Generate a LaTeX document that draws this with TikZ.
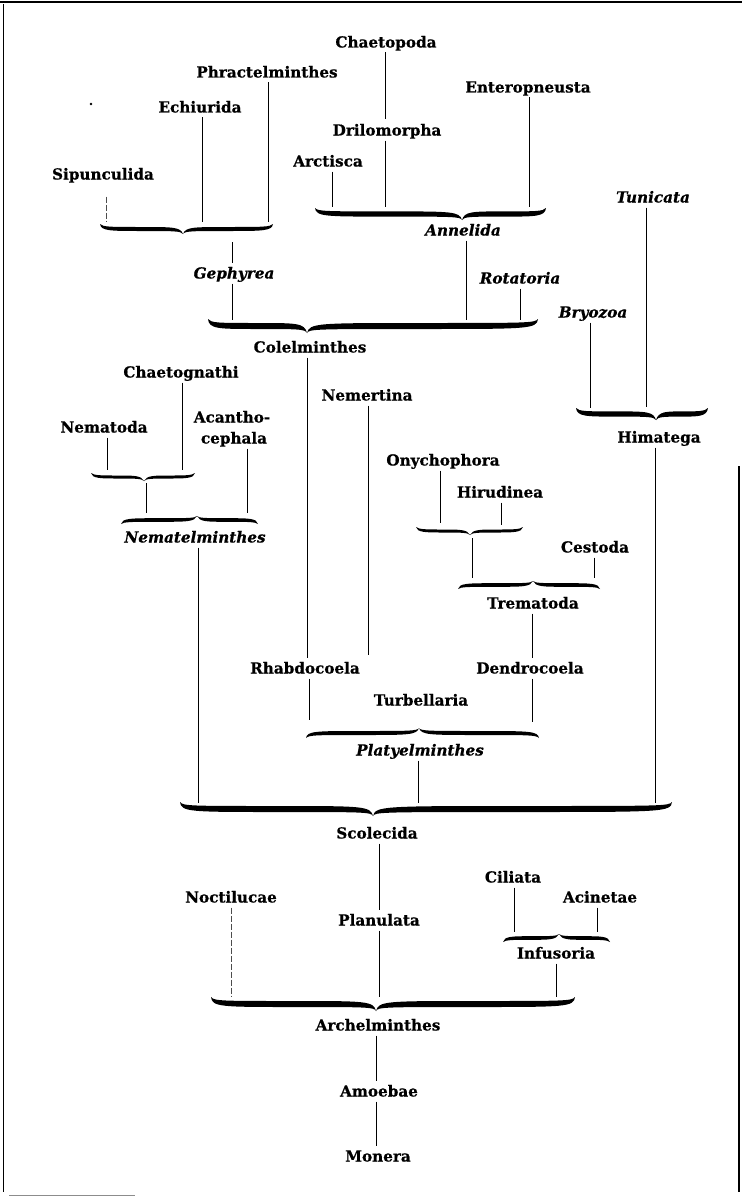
\documentclass[tikz,border=0pt]{standalone}
\usepackage{fontspec}
\setmainfont{DejaVu Serif}[BoldFeatures={FakeBold=0.7},BoldItalicFeatures={FakeBold=0.7}]

% Curly brace drawn as a filled, tapered shape.
% #1 name, #2 left end x, #3 tip x, #4 right end x, #5 body y,
% #6 offset of ends/tip (positive: tip points down), #7 half thickness (same sign as #6)
\newcommand{\tbrace}[7]{%
  \coordinate (#1) at (#3,#5);
  \fill (#2,{#5-(#6)})
    .. controls ({#2+1},{#5+(#7)}) and ({#2+10},{#5+(#7)}) .. ({(#2+#3)/2},{#5+(#7)})
    .. controls ({#3-10},{#5+(#7)}) and ({#3-1.5},{#5+(#7)}) .. (#3,{#5+(#6)})
    .. controls ({#3-2.5},{#5-(#7)}) and ({#3-10},{#5-(#7)}) .. ({(#2+#3)/2},{#5-(#7)})
    .. controls ({#2+10},{#5-(#7)}) and ({#2+3},{#5-(#7)}) .. (#2,{#5-(#6)}) -- cycle;
  \fill (#4,{#5-(#6)})
    .. controls ({#4-1},{#5+(#7)}) and ({#4-10},{#5+(#7)}) .. ({(#4+#3)/2},{#5+(#7)})
    .. controls ({#3+10},{#5+(#7)}) and ({#3+1.5},{#5+(#7)}) .. (#3,{#5+(#6)})
    .. controls ({#3+2.5},{#5-(#7)}) and ({#3+10},{#5-(#7)}) .. ({(#4+#3)/2},{#5-(#7)})
    .. controls ({#4-10},{#5-(#7)}) and ({#4-3},{#5-(#7)}) .. (#4,{#5-(#6)}) -- cycle;
}

\begin{document}
\begin{tikzpicture}[x=1pt,y=-1pt,
  lbl/.style={font=\bfseries\fontsize{15.2}{17}\selectfont, inner sep=0pt,
              outer sep=5pt, text height=11pt, text depth=0pt},
  itl/.style={lbl, font=\bfseries\itshape\fontsize{15.2}{17}\selectfont},
  link/.style={line width=0.9pt},
  faint/.style={line width=0.8pt, black!70, dash pattern=on 6pt off 2pt},
  rule/.style={line width=1.5pt}]

\useasboundingbox (0,0) rectangle (742,1196);

% page rules
\draw[line width=2pt] (0,2) -- (742,2);
\draw[rule] (3.5,4) -- (3.5,1192);
\draw[line width=1.2pt] (739,466) -- (739,1192);
\draw[line width=1pt, black!45] (9,1195) -- (135,1195);
\fill (91,104) circle (1.4);

% labels
\node[lbl] (chaetopoda) at (386,42) {Chaetopoda};
\node[lbl] (phract) at (267,72) {Phractelminthes};
\node[lbl] (entero) at (528,87) {Enteropneusta};
\node[lbl] (echiur) at (200,107) {Echiurida};
\node[lbl] (drilo) at (387,130) {Drilomorpha};
\node[lbl] (arctis) at (328,161) {Arctisca};
\node[lbl] (sipunc) at (103,174) {Sipunculida};
\node[itl] (tunic) at (653,197) {Tunicata};
\node[itl] (annel) at (463,230) {Annelida};
\node[itl] (gephyr) at (234,273) {Gephyrea};
\node[itl] (rotat) at (520,278) {Rotatoria};
\node[itl] (bryoz) at (593,312) {Bryozoa};
\node[lbl] (colel) at (310,347) {Colelminthes};
\node[lbl] (chaetog) at (181,372) {Chaetognathi};
\node[lbl] (nemert) at (367,395) {Nemertina};
\node[lbl] (acan1) at (232,417) {Acantho-};
\node[lbl] (acan2) at (234,438) {cephala};
\node[lbl] (nematod) at (104,427) {Nematoda};
\node[lbl] (himat) at (659,437) {Himatega};
\node[lbl] (onych) at (443,460) {Onychophora};
\node[lbl] (hirud) at (500,492) {Hirudinea};
\node[itl] (nemat) at (195,537) {Nematelminthes};
\node[lbl] (cestod) at (595,547) {Cestoda};
\node[lbl] (tremat) at (533,603) {Trematoda};
\node[lbl] (rhabdo) at (305,668) {Rhabdocoela};
\node[lbl] (dendro) at (530,668) {Dendrocoela};
\node[lbl] (turbel) at (421,700) {Turbellaria};
\node[itl] (platy) at (420,750) {Platyelminthes};
\node[lbl] (scolec) at (377,833) {Scolecida};
\node[lbl] (ciliat) at (513,877) {Ciliata};
\node[lbl] (noctil) at (231,897) {Noctilucae};
\node[lbl] (acinet) at (600,897) {Acinetae};
\node[lbl] (planul) at (379,920) {Planulata};
\node[lbl] (infus) at (556,953) {Infusoria};
\node[lbl] (archel) at (378,1025) {Archelminthes};
\node[lbl] (amoeb) at (379,1091) {Amoebae};
\node[lbl] (moner) at (378,1156) {Monera};

% braces
\tbrace{bGeph}{100}{183}{273}{229}{5}{2}
\tbrace{bAnn}{315}{462}{546}{214}{6}{2.6}
\tbrace{bCol}{208}{307}{538}{326}{7}{3}
\tbrace{bNem}{91}{144}{195}{477}{4}{1.5}
\tbrace{bNemat}{121}{197}{258}{520}{-4}{-1.8}
\tbrace{bHim}{576}{656}{708}{414}{6}{2.6}
\tbrace{bOny}{416}{470}{523}{531}{4}{1.5}
\tbrace{bTrem}{458}{533}{600}{585}{-4}{-1.8}
\tbrace{bPlaty}{306}{419}{539}{733}{-5}{-2}
\tbrace{bScol}{180}{373}{672}{809}{7}{3}
\tbrace{bInf}{503}{559}{610}{938}{-4}{-1.8}
\tbrace{bArch}{211}{376}{575}{1004}{7}{3}

% connector ends on the braces
\coordinate (g1) at (268,222);
\coordinate (g2) at (202,222);
\coordinate (g3) at (106,222);
\coordinate (gt) at (232,242);
\coordinate (c1) at (232,320);
\coordinate (c2) at (466,320);
\coordinate (c3) at (520,320);
\coordinate (a1) at (385,207);
\coordinate (a2) at (332,207);
\coordinate (a3) at (529,207);
\coordinate (h1) at (646,407);
\coordinate (h2) at (590,408);
\coordinate (s1) at (655,803);
\coordinate (s2) at (198,803);
\coordinate (s3) at (418,803);
\coordinate (n1) at (182,470);
\coordinate (n2) at (107,470);
\coordinate (nt) at (146,483);
\coordinate (m1) at (146,513);
\coordinate (m2) at (247,513);
\coordinate (nemend) at (368,655);
\coordinate (o1) at (440,523);
\coordinate (o2) at (501,525);
\coordinate (ot) at (472,538);
\coordinate (t1) at (472,578);
\coordinate (t2) at (594,578);
\coordinate (p1) at (309,720);
\coordinate (p2) at (532,722);
\coordinate (i1) at (514,932);
\coordinate (i2) at (597,932);
\coordinate (r1) at (231,997);
\coordinate (r2) at (379,997);
\coordinate (r3) at (556,997);

% connectors
\draw[link] (phract.south -| g1) -- (g1);
\draw[link] (echiur.south -| g2) -- (g2);
\draw[faint] (sipunc.south -| g3) ++(0,12) -- (g3);
\draw[link] (gt) -- (gephyr.north -| gt);
\draw[link] (gephyr.south -| c1) -- (c1);
\draw[link] (chaetopoda.south -| a1) -- (drilo.north -| a1);
\draw[link] (drilo.south -| a1) -- (a1);
\draw[link] (arctis.south -| a2) -- (a2);
\draw[link] (entero.south -| a3) -- (a3);
\draw[link] (annel.south -| c2) -- (c2);
\draw[link] (rotat.south -| c3) -- (c3);
\draw[link] (tunic.south -| h1) -- (h1);
\draw[link] (bryoz.south -| h2) -- (h2);
\draw[link] (himat.south -| s1) -- (s1);
\draw[link] (colel.south -| bCol) -- (rhabdo.north -| bCol);
\draw[link] (chaetog.south -| n1) -- (n1);
\draw[link] (nematod.south -| n2) -- (n2);
\draw[link] (nt) -- (m1);
\draw[link] (acan2.south -| m2) -- (m2);
\draw[link] (nemat.south -| s2) -- (s2);
\draw[link] (nemert.south -| nemend) -- (nemend);
\draw[link] (onych.south -| o1) -- (o1);
\draw[link] (hirud.south -| o2) -- (o2);
\draw[link] (ot) -- (t1);
\draw[link] (cestod.south -| t2) -- (t2);
\draw[link] (tremat.south -| p2) -- (dendro.north -| p2);
\draw[link] (rhabdo.south -| p1) -- (p1);
\draw[link] (dendro.south -| p2) -- (p2);
\draw[link] (platy.south -| s3) -- (s3);
\draw[link] (scolec.south -| r2) -- (planul.north -| r2);
\draw[faint] (noctil.south -| r1) -- (r1);
\draw[link] (planul.south -| r2) -- (r2);
\draw[link] (ciliat.south -| i1) -- (i1);
\draw[link] (acinet.south -| i2) -- (i2);
\draw[link] (infus.south -| r3) -- (r3);
\draw[link] (archel.south -| bArch) -- (amoeb.north -| bArch);
\draw[link] (amoeb.south -| bArch) -- (moner.north -| bArch);
\end{tikzpicture}
\end{document}
